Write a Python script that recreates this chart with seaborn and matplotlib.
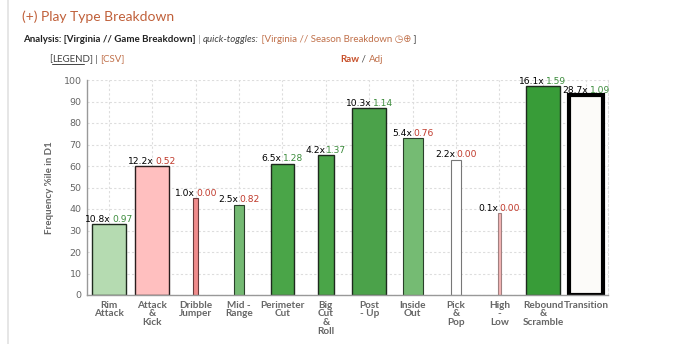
import matplotlib
matplotlib.use("Agg")
import matplotlib.pyplot as plt
import seaborn as sns
import pandas as pd
from matplotlib.offsetbox import TextArea, HPacker, AnnotationBbox
from matplotlib.lines import Line2D

# ---- data ----
categories = ["Rim\nAttack", "Attack\n&\nKick", "Dribble\nJumper", "Mid -\nRange",
              "Perimeter\nCut", "Big\nCut\n&\nRoll", "Post\n- Up", "Inside\nOut",
              "Pick\n&\nPop", "High\n-\nLow", "Rebound\n&\nScramble", "Transition"]
percentile = [33, 60, 45, 42, 61, 65, 87, 73, 63, 38, 97, 93]
frequency = [10.8, 12.2, 1.0, 2.5, 6.5, 4.2, 10.3, 5.4, 2.2, 0.1, 16.1, 28.7]
efficiency = [0.97, 0.52, 0.00, 0.82, 1.28, 1.37, 1.14, 0.76, 0.00, 0.00, 1.59, 1.09]
y_ticks = list(range(0, 101, 10))

# ---- styles ----
fill_colors = ["#b5dbb1", "#ffbfbf", "#f08c8c", "#74b972", "#4aa548", "#4aa548",
               "#4ba24a", "#75bb73", "#ffffff", "#f5b5b5", "#389c38", "#fcfbf9"]
edge_colors = ["#1e2a1e", "#2a1e1e", "#6a3a3a", "#2a402a", "#1e2a1e", "#1e2a1e",
               "#1e2a1e", "#2a402a", "#777777", "#a08080", "#1e2a1e", "#000000"]
edge_widths = [1.0, 1.0, 0.8, 0.8, 1.0, 1.0, 1.0, 0.8, 0.8, 0.8, 1.0, 3.0]

UI = ["Lato", "DejaVu Sans"]

sns.set_style("white")
plt.rcParams["font.family"] = ["DejaVu Sans"]

fig = plt.figure(figsize=(6.9, 3.44), dpi=100)
ax = fig.add_axes([87 / 690, 1 - 295 / 344, (608 - 87) / 690, (295 - 80) / 344])

df = pd.DataFrame({"cat": categories, "pct": percentile})
sns.barplot(data=df, x="cat", y="pct", hue="cat", palette=fill_colors,
            legend=False, ax=ax, width=0.78, saturation=1)

for i, p in enumerate(ax.patches[:len(categories)]):
    w = min(0.046 + frequency[i] * 0.076, 0.78)
    c = p.get_x() + p.get_width() / 2
    p.set_width(w)
    p.set_x(c - w / 2)
    p.set_edgecolor(edge_colors[i])
    p.set_linewidth(edge_widths[i])
    # two-colour label
    vcol = "#3c8c3c" if efficiency[i] >= 0.9 else "#c0392b"
    t1 = TextArea(f"{frequency[i]:.1f}x", textprops=dict(color="black", fontsize=6.6))
    t2 = TextArea(f"{efficiency[i]:.2f}", textprops=dict(color=vcol, fontsize=6.6))
    box = HPacker(children=[t1, t2], align="baseline", pad=0, sep=1.0)
    ab = AnnotationBbox(box, (c, percentile[i]), xybox=(0, 0.3), xycoords="data",
                        boxcoords="offset points", box_alignment=(0.5, 0),
                        frameon=False, pad=0, annotation_clip=False)
    ax.add_artist(ab)

ax.set_ylim(0, 100)
ax.set_xlim(-0.5, len(categories) - 0.5)
ax.set_yticks(y_ticks)
ax.set_yticklabels([str(v) for v in y_ticks], fontsize=6.8, color="#666666")
ax.set_xticks(range(len(categories)))
ax.set_xticklabels(categories, fontsize=7.2, color="#666666", fontweight="bold",
                   linespacing=0.95, va="top", family=UI)
ax.tick_params(axis="y", length=3, color="#888888", pad=1)
ax.tick_params(axis="x", length=3, color="#888888", pad=1)
ax.set_xlabel("")
ax.set_ylabel("Frequency %ile in D1", fontsize=7, color="#666666",
              fontweight="bold", labelpad=7, family=UI)

ax.grid(True, axis="both", linestyle=(0, (2, 2)), color="#dddddd", linewidth=0.8)
ax.set_axisbelow(True)
for s in ["left", "bottom"]:
    ax.spines[s].set_color("#999999")
    ax.spines[s].set_linewidth(1.0)
ax.spines["top"].set_visible(False)
ax.spines["right"].set_color("#dddddd")
ax.spines["right"].set_linestyle((0, (2, 2)))
ax.spines["right"].set_linewidth(0.8)

# page elements
fig.add_artist(Line2D([8 / 690, 8 / 690], [0, 1], color="#e2e2e2", linewidth=1.2))

fig.text(22 / 690, 1 - 17 / 344, "(+) Play Type Breakdown", fontsize=10,
         color="#c0603a", va="center", ha="left", family=UI)

parts = [
    ("Analysis: [Virginia // Game Breakdown]", dict(color="#222222", fontweight="bold")),
    (" | ", dict(color="#888888")),
    ("quick-toggles:", dict(color="#444444", fontstyle="italic")),
    (" [Virginia // Season Breakdown \u25F7\u2295", dict(color="#c0704a")),
    (" ]", dict(color="#444444")),
]
children = [TextArea(t, textprops=dict(fontsize=7, family=UI, **kw)) for t, kw in parts]
hb = HPacker(children=children, align="baseline", pad=0, sep=0)
fig.add_artist(AnnotationBbox(hb, (23 / 690, 1 - 40 / 344), xycoords="figure fraction",
                              box_alignment=(0, 0.5), frameon=False, pad=0))

parts2 = [
    ("[", dict(color="#444444")),
    ("LEGEND", dict(color="#444444")),
    ("] | ", dict(color="#444444")),
    ("[CSV]", dict(color="#c0704a")),
]
children2 = [TextArea(t, textprops=dict(fontsize=7, family=UI, **kw)) for t, kw in parts2]
hb2 = HPacker(children=children2, align="baseline", pad=0, sep=0)
fig.add_artist(AnnotationBbox(hb2, (49 / 690, 1 - 59 / 344), xycoords="figure fraction",
                              box_alignment=(0, 0.5), frameon=False, pad=0))
fig.add_artist(Line2D([52 / 690, 84 / 690], [1 - 63.5 / 344, 1 - 63.5 / 344],
                      color="#444444", linewidth=0.7))

parts3 = [
    ("Raw", dict(color="#c8502a", fontweight="bold")),
    (" / ", dict(color="#444444")),
    ("Adj", dict(color="#c0704a")),
]
children3 = [TextArea(t, textprops=dict(fontsize=7, family=UI, **kw)) for t, kw in parts3]
hb3 = HPacker(children=children3, align="baseline", pad=0, sep=0)
fig.add_artist(AnnotationBbox(hb3, (340 / 690, 1 - 59 / 344), xycoords="figure fraction",
                              box_alignment=(0, 0.5), frameon=False, pad=0))

fig.savefig("out.png", dpi=100, facecolor="white")
